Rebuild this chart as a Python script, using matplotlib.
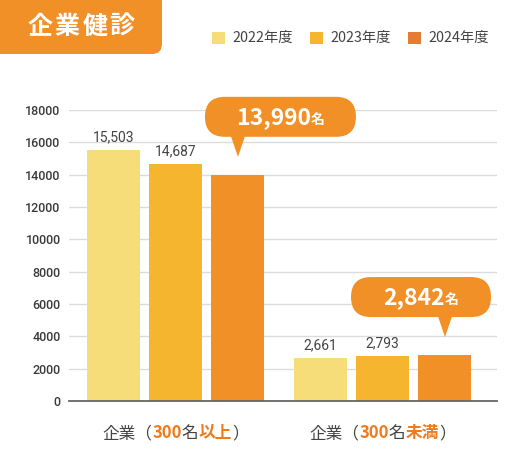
import matplotlib
matplotlib.use('Agg')
import matplotlib.pyplot as plt
import matplotlib.transforms as mtransforms
from matplotlib.patches import FancyBboxPatch, Polygon, Rectangle
import numpy as np

# data
years = ['2022年度', '2023年度', '2024年度']
v2022 = [15503, 2661]
v2023 = [14687, 2793]
v2024 = [13990, 2842]
# category labels split into (text, highlighted) parts
cat_parts = [
    [('企業（', False), ('300', True), ('名', False), ('以上', True), ('）', False)],
    [('企業（', False), ('300', True), ('名', False), ('未満', True), ('）', False)],
]
title = '企業健診'

colors = ['#F7DD7A', '#F5B52E', '#F09027']
legend_colors = ['#F7DD7A', '#F5B52E', '#E57C33']
orange_text = '#F07B1C'
grey = '#444444'
bubble_color = '#F09027'
# bubble horizontal span relative to the bar centre (pixels)
bubble_span = [(-32.5, 118.5), (-93.5, 46.5)]

plt.rcParams['font.family'] = ['Noto Sans CJK JP', 'DejaVu Sans']

fig = plt.figure(figsize=(5.2, 4.71), dpi=100)
ax = fig.add_axes([69 / 520, 70 / 471, 428 / 520, 291 / 471])
renderer = fig.canvas.get_renderer()


def rich_text(x, y, pieces, transform, dy, z=6):
    # pieces: (text, color, size, weight); drawn side by side, centred on x
    texts = []
    for s, c, size, weight in pieces:
        t = ax.text(x, y, s, color=c, fontsize=size, fontweight=weight,
                    transform=transform, ha='left', va='baseline', clip_on=False,
                    zorder=z)
        texts.append(t)
    widths = [t.get_window_extent(renderer).width for t in texts]
    left = -sum(widths) / 2
    for t, w in zip(texts, widths):
        t.set_transform(mtransforms.offset_copy(transform, fig=fig, x=left, y=dy, units='dots'))
        left += w


x = np.arange(len(v2022))
width = 0.256
gap = 0.2995
series = [v2022, v2023, v2024]
for i, vals in enumerate(series):
    ax.bar(x + (i - 1) * gap, vals, width, color=colors[i], zorder=3)

ax.set_xlim(-0.514, 1.553)
ax.set_ylim(0, 18000)
ax.set_yticks(range(0, 18001, 2000))
ax.set_xticks([])
ax.yaxis.grid(True, color='#dcdcdc', lw=1.0, zorder=0)
for s in ['top', 'right', 'left']:
    ax.spines[s].set_visible(False)
ax.spines['bottom'].set_color('#666666')
ax.spines['bottom'].set_linewidth(1.3)
ax.spines['bottom'].set_zorder(4)
ax.tick_params(axis='y', length=0, pad=6, labelsize=9, labelcolor='#3a3a3a',
               labelfontfamily='Roboto')
for lab in ax.get_yticklabels():
    lab.set_fontweight('medium')

# value labels for 2022 / 2023
for i, vals in enumerate(series[:2]):
    for xi, v in zip(x, vals):
        ax.annotate(f'{v:,}', xy=(xi + (i - 1) * gap, v), xytext=(0, 6.2),
                    textcoords='offset points', ha='center', va='baseline',
                    fontsize=10, color=grey, fontfamily='Roboto')

# callout bubbles for 2024
for xi, v, (x0, x1) in zip(x, v2024, bubble_span):
    bx = xi + gap
    trans = fig.dpi_scale_trans + mtransforms.ScaledTranslation(bx, v, ax.transData)
    box = FancyBboxPatch((x0 / 100, 0.38), (x1 - x0) / 100, 0.40,
                         boxstyle='round,pad=0,rounding_size=0.2',
                         transform=trans, facecolor=bubble_color, edgecolor='none',
                         zorder=5, clip_on=False)
    ax.add_patch(box)
    tri = Polygon([(-0.07, 0.40), (0.08, 0.40), (0.005, 0.18)], closed=True,
                  transform=trans, facecolor=bubble_color, edgecolor='none',
                  zorder=5, clip_on=False)
    ax.add_patch(tri)
    cx = (x0 + x1) / 2
    rich_text(cx / 100, 0, [(f'{v:,}', 'white', 16.5, 'bold'), ('名', 'white', 10, 'bold')],
              trans, 51)

# category labels
xaxis_tr = ax.get_xaxis_transform()
for xi, parts in zip(x, cat_parts):
    pieces = [(s, orange_text if hl else grey, 12, 'bold' if hl else 'normal')
              for s, hl in parts]
    rich_text(xi, 0, pieces, xaxis_tr, -37)

# title tab
tab = FancyBboxPatch((-0.3, 4.17), 1.92, 1.0, boxstyle='round,pad=0,rounding_size=0.1',
                     transform=fig.dpi_scale_trans, facecolor=bubble_color,
                     edgecolor='none')
fig.patches.append(tab)
for k, ch in enumerate(title):
    fig.text((81 + (k - 1.5) * 27.5) / 100, 4.44, ch, transform=fig.dpi_scale_trans,
             color='white', fontsize=18, fontweight='bold', ha='center', va='center')

# legend
for i, (lab, c) in enumerate(zip(years, legend_colors)):
    lx = 212 + i * 98
    fig.patches.append(Rectangle((lx / 100, (471 - 44) / 100), 0.125, 0.125,
                                 transform=fig.dpi_scale_trans, facecolor=c,
                                 edgecolor='none'))
    fig.text((lx + 20) / 100, (471 - 38) / 100, lab, transform=fig.dpi_scale_trans,
             color=grey, fontsize=10.3, ha='left', va='center')

fig.savefig('out.png', dpi=100)
